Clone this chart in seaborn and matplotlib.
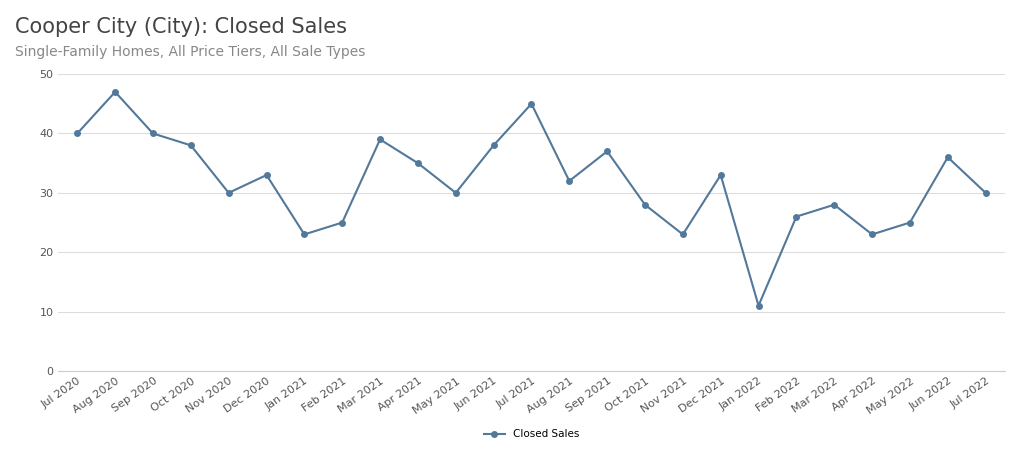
import matplotlib
matplotlib.use("Agg")
import matplotlib.pyplot as plt
import seaborn as sns
import pandas as pd

months = ["Jul 2020","Aug 2020","Sep 2020","Oct 2020","Nov 2020","Dec 2020","Jan 2021","Feb 2021","Mar 2021","Apr 2021","May 2021","Jun 2021","Jul 2021","Aug 2021","Sep 2021","Oct 2021","Nov 2021","Dec 2021","Jan 2022","Feb 2022","Mar 2022","Apr 2022","May 2022","Jun 2022","Jul 2022"]
closed_sales = [40,47,40,38,30,33,23,25,39,35,30,38,45,32,37,28,23,33,11,26,28,23,25,36,30]
yticks = [0,10,20,30,40,50]

df = pd.DataFrame({"x": range(len(months)), "v": closed_sales})
color = "#52789a"
fig = plt.figure(figsize=(10.24,4.69), dpi=100)
ax = fig.add_axes([0.057,0.209,0.924,0.633])
sns.lineplot(data=df, x="x", y="v", ax=ax, color=color, marker="o", markersize=5,
             markeredgewidth=0, linewidth=1.5, label="Closed Sales")
ax.set_xlim(-0.5, len(months)-0.5)
ax.set_ylim(0,50)
ax.set_yticks(yticks)
ax.set_xticks(range(len(months)))
ax.set_xticklabels(months, rotation=35, ha="right", rotation_mode="anchor", fontsize=8, color="#555555")
ax.tick_params(axis="y", labelsize=8, labelcolor="#555555", length=0)
ax.tick_params(axis="x", length=0)
ax.grid(axis="y", color="#dddddd", linewidth=0.8)
for s in ["top","right","left"]:
    ax.spines[s].set_visible(False)
ax.spines["bottom"].set_color("#cccccc")
ax.set_xlabel(""); ax.set_ylabel("")
ax.legend(loc="upper center", bbox_to_anchor=(0.5,-0.165), frameon=False, fontsize=7.5)
fig.text(0.015,0.93,"Cooper City (City): Closed Sales", fontsize=15, color="#444444")
fig.text(0.015,0.88,"Single-Family Homes, All Price Tiers, All Sale Types", fontsize=10, color="#888888")
fig.savefig("out.png", dpi=100)
